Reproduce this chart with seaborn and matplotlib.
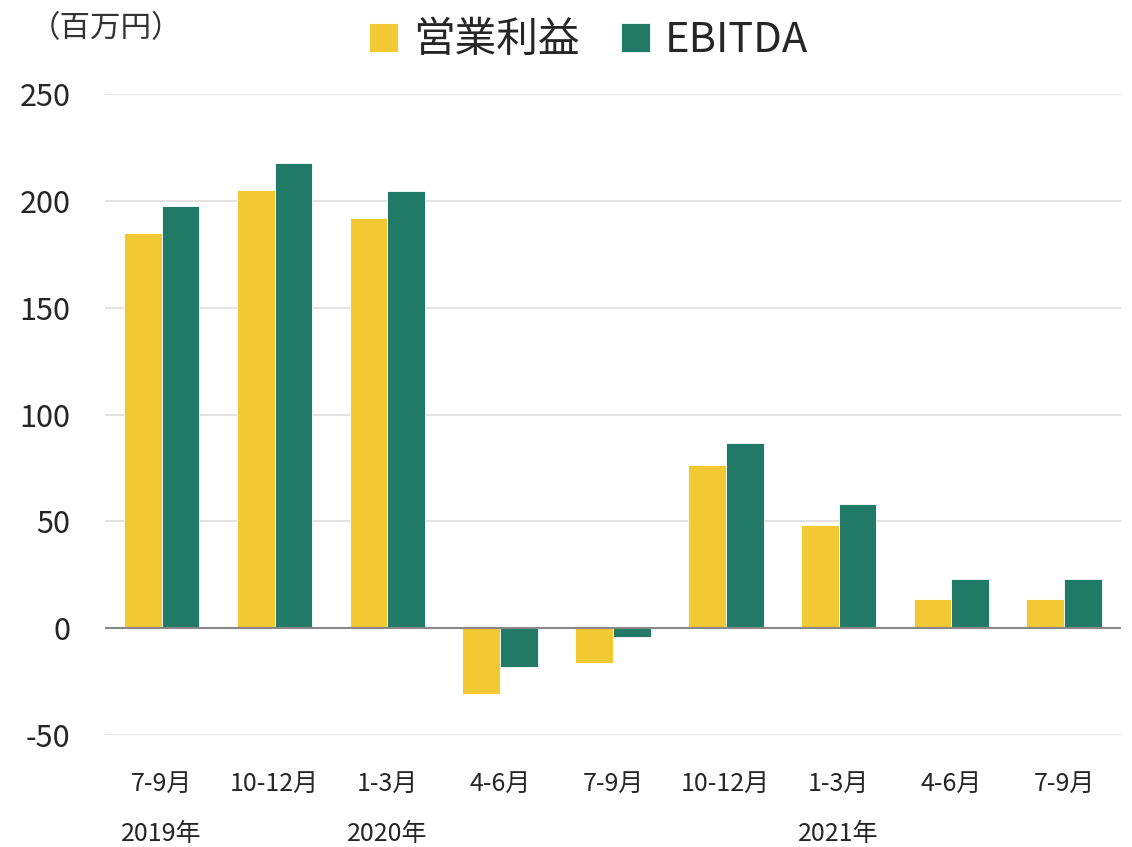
import pandas as pd
import matplotlib
matplotlib.use("Agg")
import matplotlib.pyplot as plt
import matplotlib.transforms as mtransforms
import seaborn as sns

# data
quarters = ["2019Q3", "2019Q4", "2020Q1", "2020Q2", "2020Q3", "2020Q4", "2021Q1", "2021Q2", "2021Q3"]
tick_labels = ["7-9月", "10-12月", "1-3月", "4-6月", "7-9月", "10-12月", "1-3月", "4-6月", "7-9月"]
year_labels = {0: "2019年", 2: "2020年", 6: "2021年"}
op_profit = [185, 205, 192, -30.5, -16.2, 76.3, 48.5, 13.6, 13.6]
ebitda = [197.5, 217.8, 204.6, -18.3, -4.1, 86.5, 58.4, 23.3, 23.0]
series = ["営業利益", "EBITDA"]
colors = ["#F2C833", "#217A65"]

df = pd.DataFrame({
    "quarter": quarters * 2,
    "value": op_profit + ebitda,
    "series": [series[0]] * len(quarters) + [series[1]] * len(quarters),
})

sns.set_style("white")
plt.rcParams["font.family"] = ["Noto Sans CJK JP", "DejaVu Sans"]
plt.rcParams["axes.unicode_minus"] = False

fig = plt.figure(figsize=(11.32, 8.47), dpi=100)
ax = fig.add_axes([0.093, 0.132, 0.897, 0.757])

ax.set_axisbelow(True)
ax.yaxis.grid(True, color="#dddddd", linewidth=1.2)
sns.barplot(data=df, x="quarter", y="value", hue="series", order=quarters,
            hue_order=series, palette=colors, width=0.67, gap=0,
            edgecolor="white", linewidth=0.6, saturation=1, ax=ax, legend=True)
ax.axhline(0, color="#888888", linewidth=1.5, zorder=3)

ax.set_ylim(-50, 250)
ax.set_yticks([-50, 0, 50, 100, 150, 200, 250])
ax.set_xlim(-0.5, len(quarters) - 0.5)
ax.set_xticks(range(len(quarters)))
ax.set_xticklabels(tick_labels, fontsize=18)
ax.tick_params(axis="y", labelsize=22, length=0, pad=25)
ax.tick_params(axis="x", length=0, pad=26)
ax.set_xlabel("")
ax.set_ylabel("")
sns.despine(ax=ax, left=True, bottom=True, top=True, right=True)

trans = mtransforms.blended_transform_factory(ax.transData, fig.transFigure)
for i, lab in year_labels.items():
    ax.text(i, 0.0, lab, transform=trans, ha="center", va="bottom", fontsize=18)

fig.text(0.026, 0.966, "（百万円）", fontsize=22, color="#333333", va="center", ha="left")

ax.legend(loc="center", bbox_to_anchor=(0.52, 0.952), bbox_transform=fig.transFigure,
          ncol=2, frameon=False, fontsize=30, handlelength=0.7, handleheight=0.7,
          handletextpad=0.35, columnspacing=1.0)

fig.savefig("out.png", dpi=100)
